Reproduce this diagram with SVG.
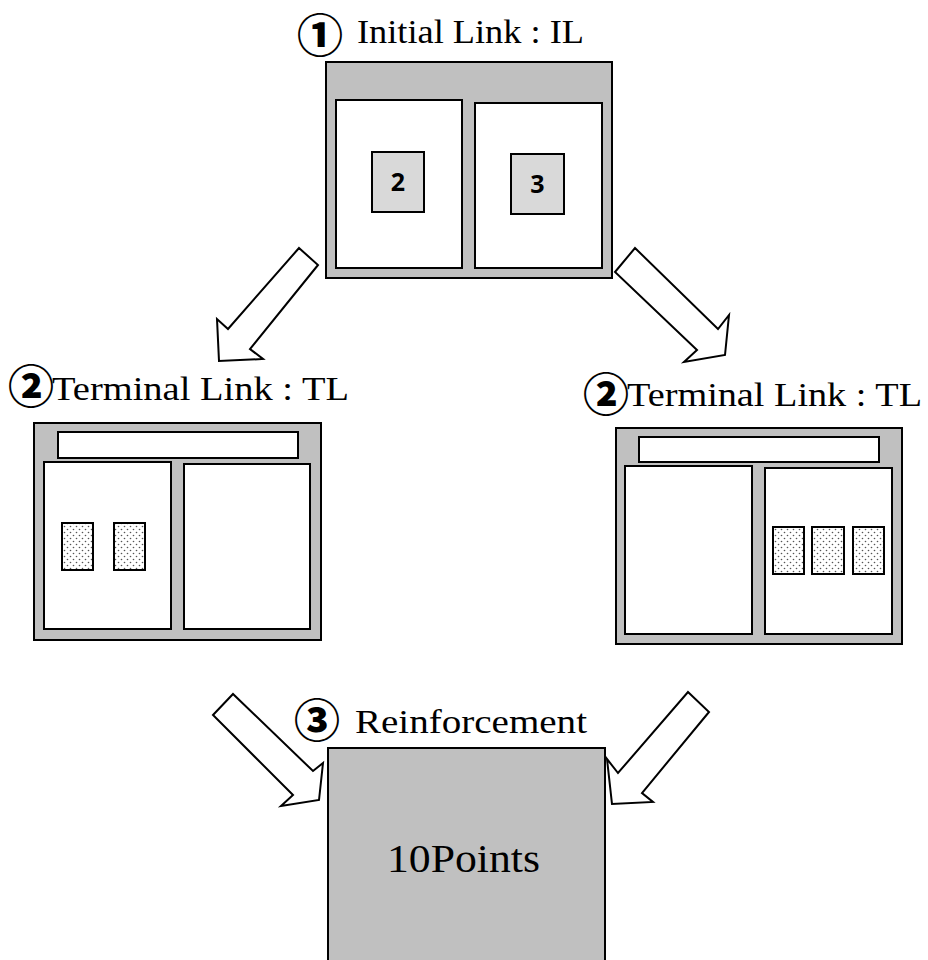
<svg xmlns="http://www.w3.org/2000/svg" width="928" height="960" viewBox="0 0 928 960">
<defs>
<pattern id="dots" width="6" height="6" patternUnits="userSpaceOnUse">
<rect width="6" height="6" fill="#ffffff"/>
<circle cx="1.5" cy="1.5" r="0.8" fill="#555"/>
<circle cx="4.5" cy="4.5" r="0.8" fill="#555"/>
</pattern>
</defs>
<style>
.frame{fill:#c0c0c0;stroke:#000;stroke-width:2}
.pane{fill:#fff;stroke:#000;stroke-width:2}
.num{fill:#d9d9d9;stroke:#000;stroke-width:2}
.dot{fill:url(#dots);stroke:#000;stroke-width:2}
.arrow{fill:#fff;stroke:#000;stroke-width:2;stroke-linejoin:miter}
.lbl{font-family:"Liberation Serif","Times New Roman",serif;font-size:34px;fill:#000}
.circ{font-family:"Noto Sans CJK JP","DejaVu Sans",sans-serif;font-weight:900;font-size:46px;fill:#000}
.digit{font-family:"Open Sans","Liberation Sans",sans-serif;font-weight:bold;font-size:25px;fill:#000;text-anchor:middle}
</style>

<g id="il">
<text class="circ" x="297" y="52">①</text>
<text class="lbl" x="357" y="43" textLength="227" lengthAdjust="spacingAndGlyphs">Initial Link : IL</text>
<rect class="frame" x="326" y="62" width="286" height="216"/>
<rect class="pane" x="336" y="100" width="126" height="168"/>
<rect class="pane" x="475" y="103" width="127" height="165"/>
<rect class="num" x="372" y="152" width="52" height="60"/>
<text class="digit" x="398" y="191">2</text>
<rect class="num" x="511" y="154" width="53" height="60"/>
<text class="digit" x="537.5" y="193">3</text>
</g>

<g id="tl-left">
<text class="circ" x="8" y="403">②</text>
<text class="lbl" x="52" y="400" textLength="297" lengthAdjust="spacingAndGlyphs">Terminal Link : TL</text>
<rect class="frame" x="34" y="423" width="287" height="217"/>
<rect class="pane" x="58" y="432" width="240" height="26"/>
<rect class="pane" x="44" y="462" width="127" height="167"/>
<rect class="pane" x="184" y="464" width="126" height="165"/>
<rect class="dot" x="62" y="523" width="31" height="47"/>
<rect class="dot" x="114" y="523" width="31" height="47"/>
</g>

<g id="tl-right">
<text class="circ" x="583" y="411">②</text>
<text class="lbl" x="627" y="406" textLength="295" lengthAdjust="spacingAndGlyphs">Terminal Link : TL</text>
<rect class="frame" x="616" y="428" width="286" height="216"/>
<rect class="pane" x="639" y="437" width="240" height="25"/>
<rect class="pane" x="625" y="466" width="127" height="168"/>
<rect class="pane" x="765" y="468" width="127" height="166"/>
<rect class="dot" x="773" y="527" width="31" height="47"/>
<rect class="dot" x="812" y="527" width="32" height="47"/>
<rect class="dot" x="853" y="527" width="31" height="47"/>
</g>

<g id="reinforcement">
<rect class="frame" x="328" y="748" width="277" height="230"/>
<text class="circ" x="294" y="737">③</text>
<text class="lbl" x="355" y="733" textLength="232" lengthAdjust="spacingAndGlyphs">Reinforcement</text>
<text class="lbl" x="387" y="872" style="font-size:40px" textLength="153" lengthAdjust="spacingAndGlyphs">10Points</text>
</g>

<g id="connectors">
<polygon class="arrow" points="299,248 318,265 250,349 263,359 219,361 217,319 228,329"/>
<polygon class="arrow" points="635,248 718,329 729,315 725,355 684,362 697,350 615,272"/>
<polygon class="arrow" points="213,715 233,694 313,771 323,763 319,800 281,806 293,795"/>
<polygon class="arrow" points="688,692 709,712 642,793 653,802 612,804 607,759 618,773"/>
</g>
</svg>
